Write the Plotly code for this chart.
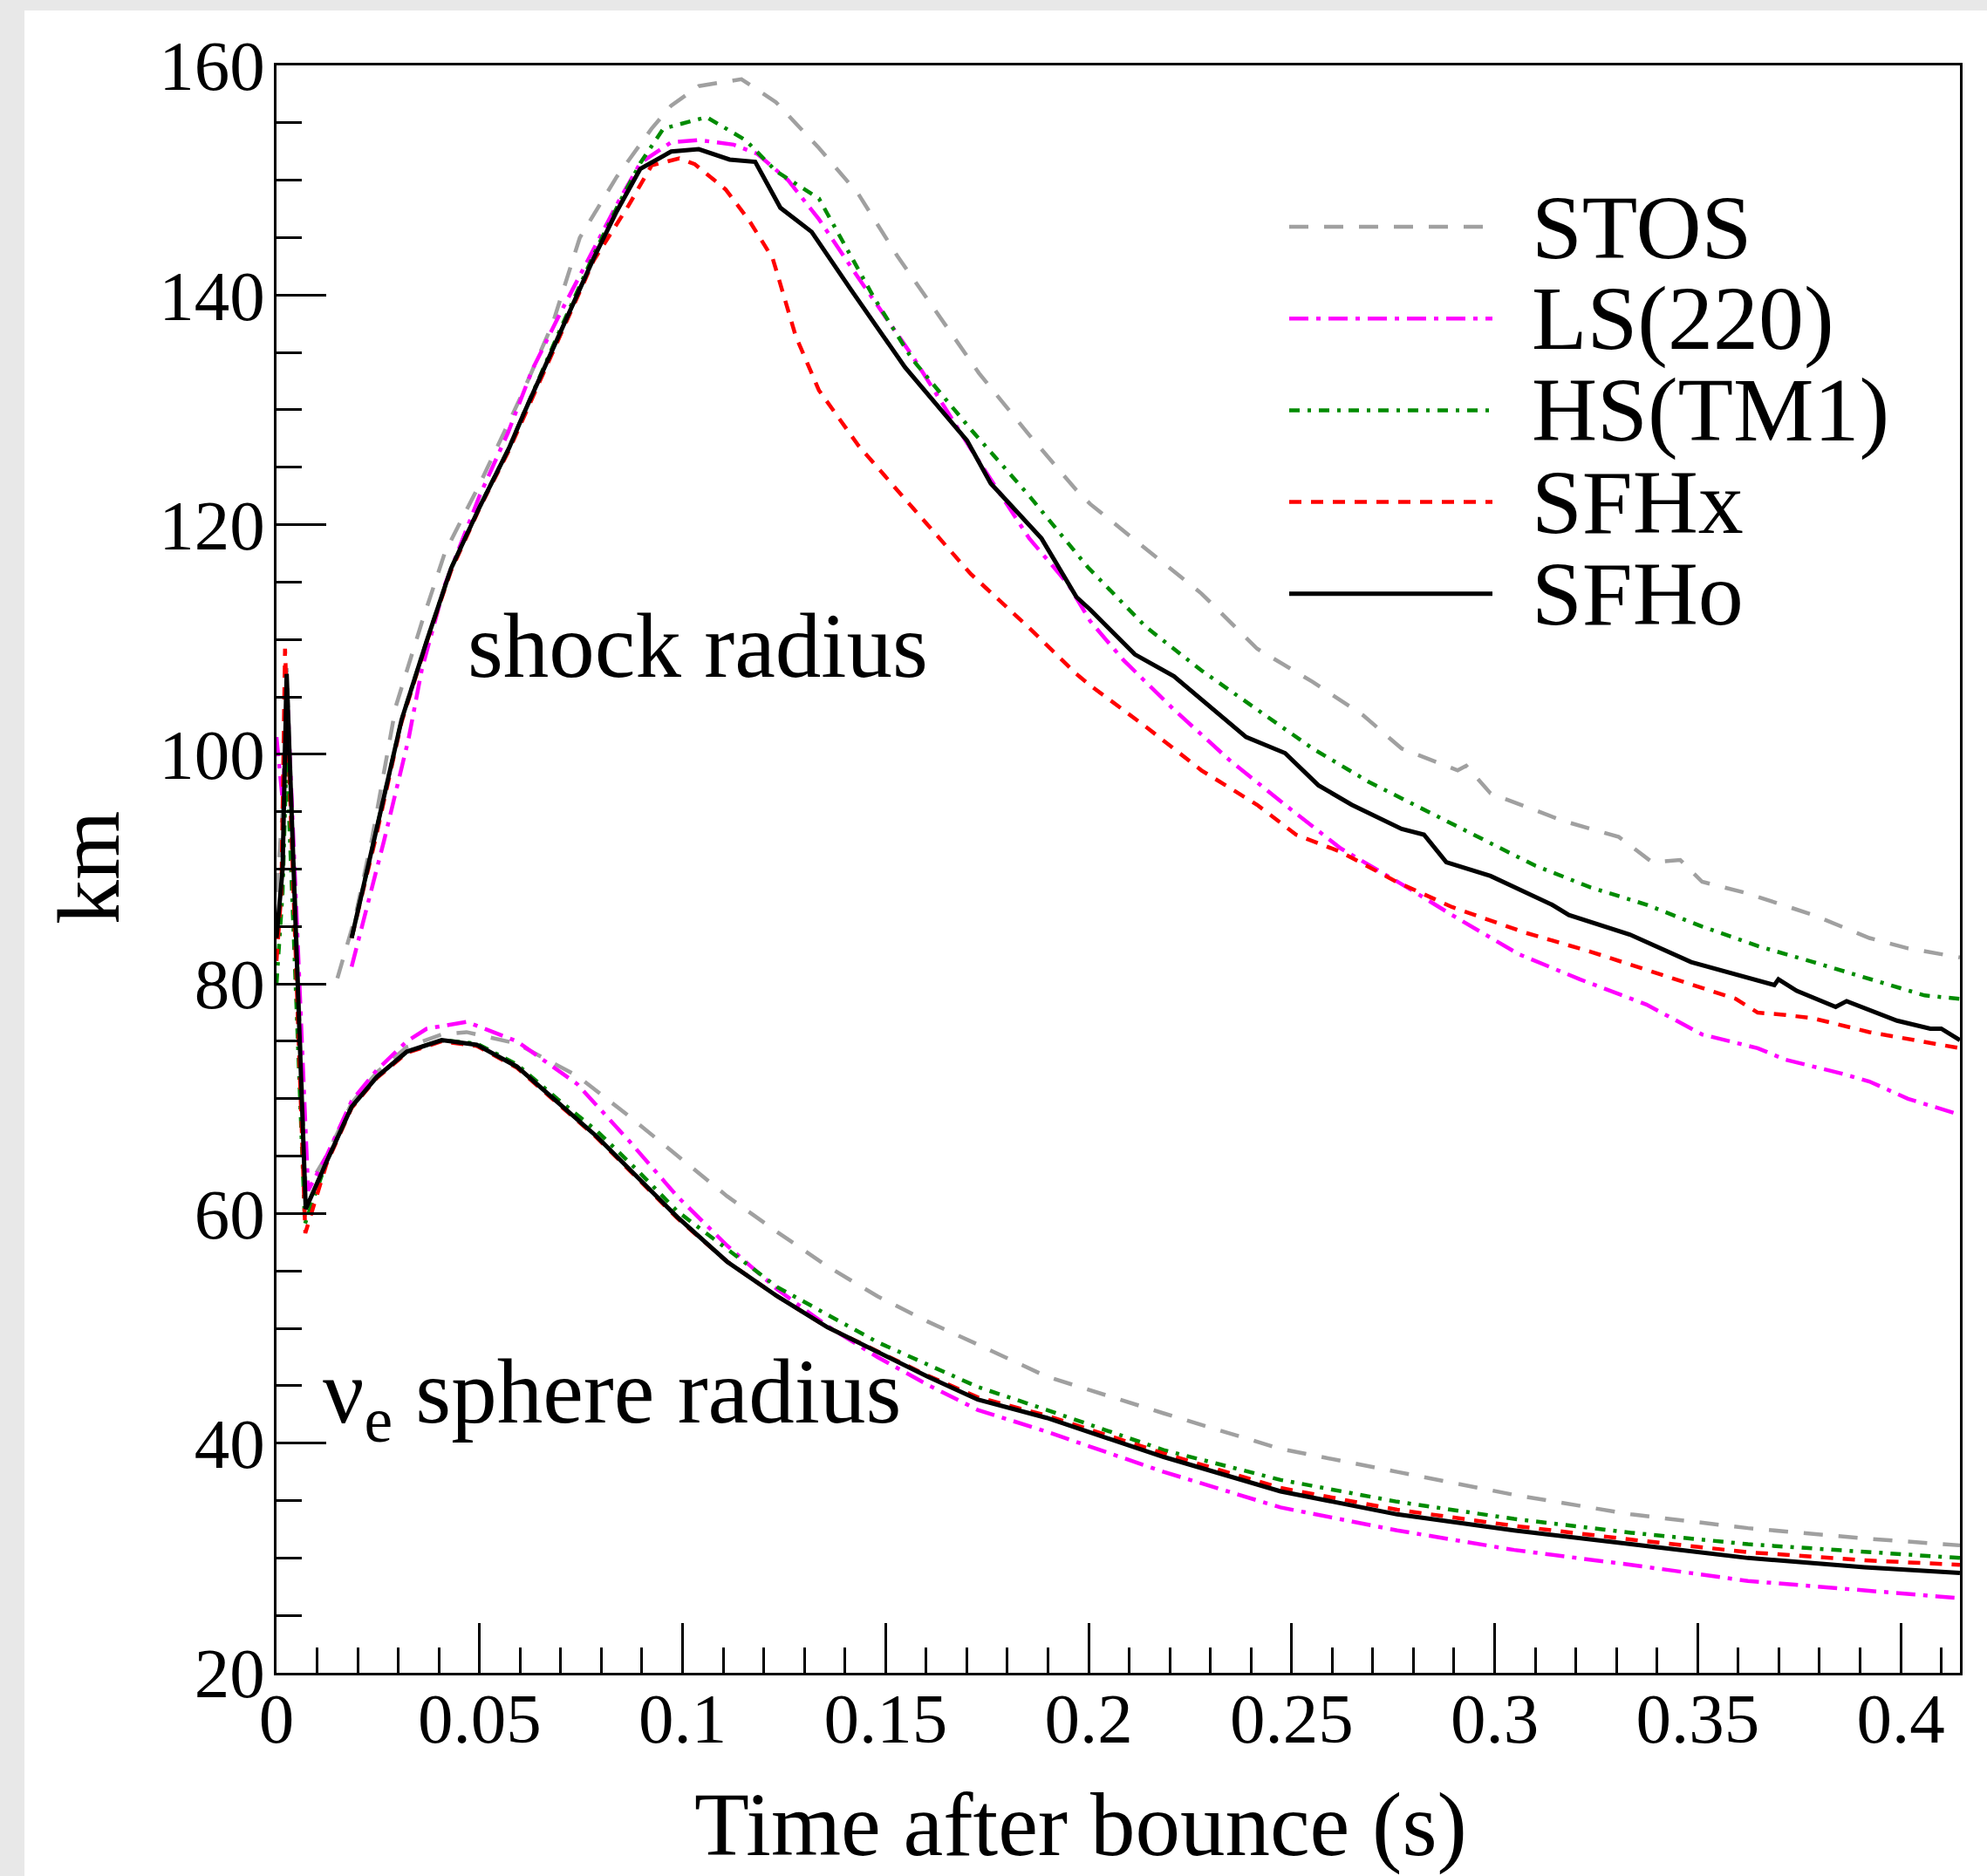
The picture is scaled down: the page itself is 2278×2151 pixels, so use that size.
import plotly.graph_objects as go

# ---------------- data ----------------
model_names = ["STOS", "LS(220)", "HS(TM1)", "SFHx", "SFHo"]

# shock radius (km) vs time after bounce (s)
stos_shock_t = [0.0150, 0.0193, 0.0236, 0.0294, 0.0358, 0.0415, 0.0500, 0.0600, 0.0680, 0.0747,
                0.0838, 0.0924, 0.0972, 0.1040, 0.1145, 0.1230, 0.1336, 0.1433, 0.1529, 0.1624,
                0.1730, 0.1854, 0.1970, 0.2004, 0.2141, 0.2278, 0.2415, 0.2552, 0.2676, 0.2771,
                0.2909, 0.2930, 0.2990, 0.3169, 0.3306, 0.3388, 0.3457, 0.3511, 0.3621, 0.3785,
                0.3923, 0.4018, 0.4146]
stos_shock_r = [80.5, 85.7, 92.8, 104.2, 111.5, 117.6, 123.5, 131.0, 137.5, 145.0,
                150.3, 154.5, 156.5, 158.2, 158.8, 156.8, 152.8, 148.8, 143.4, 138.6,
                133.2, 127.8, 123.0, 121.8, 117.9, 114.0, 109.2, 106.3, 103.4, 100.5,
                98.6, 99.0, 96.6, 94.2, 92.8, 90.6, 90.8, 88.9, 87.9, 86.0,
                84.0, 83.1, 82.3]

ls_shock_t = [0.0185, 0.0265, 0.0325, 0.0358, 0.0415, 0.0500, 0.0570, 0.0630, 0.0700, 0.0780,
              0.0840, 0.0896, 0.0972, 0.1040, 0.1126, 0.1184, 0.1260, 0.1336, 0.1433, 0.1566,
              0.1710, 0.1854, 0.1950, 0.2004, 0.2086, 0.2210, 0.2347, 0.2484, 0.2621, 0.2785,
              0.2895, 0.3059, 0.3210, 0.3374, 0.3511, 0.3648, 0.3716, 0.3854, 0.3923, 0.4018,
              0.4146]
ls_shock_r = [81.5, 92.5, 101.3, 107.4, 114.8, 122.5, 128.0, 133.5, 138.5, 144.0,
              148.0, 151.5, 153.3, 153.5, 153.1, 152.3, 150.0, 146.6, 141.5, 134.7,
              126.6, 118.8, 114.8, 111.6, 108.2, 103.9, 99.5, 95.6, 91.8, 88.4,
              86.0, 82.6, 80.4, 78.2, 75.6, 74.4, 73.4, 72.2, 71.5, 70.0,
              68.6]

hs_shock_t = [0.0185, 0.0243, 0.0308, 0.0372, 0.0430, 0.0501, 0.0573, 0.0608, 0.0690, 0.0781,
              0.0838, 0.0896, 0.0953, 0.1059, 0.1155, 0.1230, 0.1336, 0.1471, 0.1566, 0.1710,
              0.1854, 0.1998, 0.2141, 0.2278, 0.2415, 0.2552, 0.2690, 0.2826, 0.2963, 0.3100,
              0.3237, 0.3374, 0.3511, 0.3648, 0.3785, 0.3923, 0.4059, 0.4146]
hs_shock_r = [84.0, 92.8, 103.0, 110.1, 116.2, 121.6, 126.7, 129.6, 136.3, 143.5,
              147.6, 151.5, 154.5, 155.5, 153.5, 150.8, 148.4, 139.8, 134.4, 128.3,
              122.5, 116.3, 111.1, 107.3, 103.9, 100.5, 97.6, 95.2, 92.8, 90.3,
              88.4, 86.9, 85.0, 83.3, 81.9, 80.4, 79.0, 78.7]

sfhx_shock_t = [0.0185, 0.0243, 0.0308, 0.0372, 0.0430, 0.0501, 0.0573, 0.0608, 0.0690, 0.0781,
                0.0867, 0.0924, 0.0992, 0.1030, 0.1106, 0.1164, 0.1222, 0.1279, 0.1336, 0.1433,
                0.1566, 0.1710, 0.1854, 0.1970, 0.2004, 0.2141, 0.2278, 0.2415, 0.2511, 0.2621,
                0.2758, 0.2895, 0.3072, 0.3237, 0.3428, 0.3594, 0.3648, 0.3716, 0.3785, 0.3923,
                0.4146]
sfhx_shock_r = [84.0, 92.5, 102.8, 110.0, 116.0, 121.5, 126.5, 129.3, 135.8, 143.0,
                147.8, 151.3, 151.9, 151.4, 149.2, 146.5, 143.2, 136.4, 131.7, 126.9,
                121.5, 115.7, 111.0, 107.0, 106.0, 102.4, 98.6, 95.6, 93.0, 91.5,
                88.9, 86.7, 84.5, 82.8, 80.6, 78.7, 77.5, 77.3, 77.0, 75.8,
                74.4]

sfho_shock_t = [0.0185, 0.0243, 0.0308, 0.0372, 0.0430, 0.0501, 0.0573, 0.0608, 0.0690, 0.0781,
                0.0838, 0.0896, 0.0972, 0.1040, 0.1116, 0.1179, 0.1241, 0.1318, 0.1414, 0.1548,
                0.1701, 0.1759, 0.1884, 0.1970, 0.2004, 0.2114, 0.2210, 0.2292, 0.2388, 0.2484,
                0.2566, 0.2648, 0.2771, 0.2826, 0.2881, 0.2990, 0.3141, 0.3183, 0.3333, 0.3484,
                0.3689, 0.3699, 0.3744, 0.3840, 0.3867, 0.3991, 0.4073, 0.4100, 0.4146]
sfho_shock_r = [84.0, 92.8, 103.0, 110.1, 116.2, 121.6, 126.7, 129.6, 136.0, 143.2,
                147.3, 151.0, 152.5, 152.7, 151.8, 151.6, 147.6, 145.5, 140.5, 133.7,
                127.3, 123.6, 118.8, 113.7, 112.6, 108.7, 106.8, 104.4, 101.5, 100.1,
                97.3, 95.6, 93.5, 93.0, 90.6, 89.4, 86.9, 86.0, 84.3, 81.9,
                79.9, 80.4, 79.4, 78.0, 78.5, 76.8, 76.1, 76.1, 75.1]

# nu_e sphere radius (km) vs time after bounce (s)
stos_nu_t = [0.0, 0.0015, 0.0025, 0.0072, 0.0123, 0.0185, 0.0247, 0.0321, 0.0407, 0.0468,
             0.0592, 0.0740, 0.0864, 0.0987, 0.1110, 0.1233, 0.1357, 0.1480, 0.1603, 0.1727,
             0.1897, 0.2185, 0.2473, 0.2760, 0.3048, 0.3336, 0.3624, 0.3911, 0.4146]
stos_nu_r = [88.0, 95.0, 107.5, 62.0, 65.0, 69.6, 72.3, 74.5, 75.6, 75.8,
             74.8, 72.0, 68.6, 65.0, 61.5, 58.4, 55.4, 52.8, 50.6, 48.6,
             45.8, 42.6, 39.5, 37.5, 35.5, 33.8, 32.6, 31.7, 31.1]

ls_nu_t = [0.0, 0.0015, 0.0028, 0.0078, 0.0123, 0.0185, 0.0247, 0.0321, 0.0370, 0.0468,
           0.0592, 0.0740, 0.0864, 0.0987, 0.1110, 0.1233, 0.1357, 0.1480, 0.1603, 0.1727,
           0.1897, 0.2185, 0.2473, 0.2760, 0.3048, 0.3336, 0.3624, 0.3911, 0.4146]
ls_nu_r = [101.5, 96.0, 104.0, 62.0, 65.0, 69.8, 72.5, 75.0, 76.1, 76.7,
           75.0, 71.3, 66.5, 61.5, 57.2, 53.4, 50.2, 47.5, 45.1, 42.9,
           41.0, 37.5, 34.4, 32.4, 30.7, 29.4, 28.0, 27.2, 26.5]

hs_nu_t = [0.0, 0.0015, 0.0025, 0.0070, 0.0123, 0.0185, 0.0247, 0.0321, 0.0407, 0.0493,
           0.0592, 0.0691, 0.0789, 0.0888, 0.0987, 0.1233, 0.1480, 0.1727, 0.1897, 0.2185,
           0.2473, 0.2760, 0.3048, 0.3336, 0.3624, 0.3911, 0.4146]
hs_nu_r = [80.0, 88.0, 100.0, 59.1, 64.5, 69.3, 71.9, 74.1, 75.1, 74.8,
           73.0, 70.0, 67.2, 63.8, 60.2, 53.6, 48.8, 44.9, 42.9, 39.4,
           36.8, 34.9, 33.4, 32.2, 31.2, 30.5, 30.0]

sfhx_nu_t = [0.0, 0.0012, 0.0021, 0.0071, 0.0123, 0.0185, 0.0247, 0.0321, 0.0407, 0.0493,
             0.0592, 0.0691, 0.0789, 0.0888, 0.0987, 0.1110, 0.1233, 0.1357, 0.1480, 0.1603,
             0.1727, 0.1897, 0.2185, 0.2473, 0.2760, 0.3048, 0.3336, 0.3624, 0.3911, 0.4146]
sfhx_nu_r = [82.0, 88.0, 109.2, 58.3, 64.3, 69.2, 71.8, 74.0, 75.0, 74.6,
             72.7, 69.6, 66.6, 63.1, 59.6, 55.8, 52.8, 50.1, 48.0, 45.9,
             44.0, 42.4, 39.1, 36.1, 34.2, 32.8, 31.6, 30.5, 29.8, 29.4]

sfho_nu_t = [0.0, 0.0015, 0.0025, 0.0072, 0.0123, 0.0185, 0.0247, 0.0321, 0.0407, 0.0493,
             0.0592, 0.0691, 0.0789, 0.0888, 0.0987, 0.1110, 0.1233, 0.1357, 0.1480, 0.1603,
             0.1727, 0.1897, 0.2185, 0.2473, 0.2760, 0.3048, 0.3336, 0.3624, 0.3911, 0.4146]
sfho_nu_r = [84.0, 90.0, 107.0, 60.4, 64.5, 69.3, 71.9, 74.1, 75.1, 74.7,
             72.8, 69.7, 66.7, 63.2, 59.7, 55.8, 52.8, 50.1, 48.0, 45.8,
             43.8, 42.2, 38.8, 35.8, 33.8, 32.4, 31.2, 30.0, 29.2, 28.7]

x_tick_vals = [0, 0.05, 0.1, 0.15, 0.2, 0.25, 0.3, 0.35, 0.4]
x_tick_text = ["0", "0.05", "0.1", "0.15", "0.2", "0.25", "0.3", "0.35", "0.4"]
y_tick_vals = [20, 40, 60, 80, 100, 120, 140, 160]
y_tick_text = ["20", "40", "60", "80", "100", "120", "140", "160"]

# ---------------- styles ----------------
FONT = "Liberation Serif, Times New Roman, serif"
styles = {
    "STOS":    dict(color="#a0a0a0", dash="22px,18px", width=4.5),
    "LS(220)": dict(color="#ff00ff", dash="22px,9px,5px,9px", width=4.5),
    "HS(TM1)": dict(color="#008b00", dash="12px,9px,4px,9px", width=4.5),
    "SFHx":    dict(color="#ff0000", dash="14px,11px", width=4.5),
    "SFHo":    dict(color="#000000", dash="solid", width=5),
}
series = {
    "STOS":    [(stos_shock_t, stos_shock_r), (stos_nu_t, stos_nu_r)],
    "LS(220)": [(ls_shock_t, ls_shock_r), (ls_nu_t, ls_nu_r)],
    "HS(TM1)": [(hs_shock_t, hs_shock_r), (hs_nu_t, hs_nu_r)],
    "SFHx":    [(sfhx_shock_t, sfhx_shock_r), (sfhx_nu_t, sfhx_nu_r)],
    "SFHo":    [(sfho_shock_t, sfho_shock_r), (sfho_nu_t, sfho_nu_r)],
}

fig = go.Figure()
for name in model_names:
    st = styles[name]
    for (tt, rr) in series[name]:
        fig.add_trace(go.Scatter(
            x=tt, y=rr, mode="lines", name=name, legendgroup=name, showlegend=False,
            line=dict(color=st["color"], dash=st["dash"], width=st["width"]),
        ))

# ---------------- layout geometry (pixels) ----------------
W, H = 2278, 2151
L, R, T, B = 317, 31, 75, 233
PW, PH = W - L - R, H - T - B

def px(X):
    return (X - L) / PW

def py(Y):
    return (H - B - Y) / PH

shapes = []
annotations = []

# white page with a light gray frame (top/left)
shapes.append(dict(type="rect", xref="paper", yref="paper", layer="below",
                   x0=px(28), x1=px(W + 5), y0=py(H + 5), y1=py(12),
                   fillcolor="white", line=dict(width=0)))

# custom legend
leg_x0, leg_x1, leg_text_x = 1478, 1711, 1754
for i, name in enumerate(model_names):
    st = styles[name]
    yy = py(260 + 105.2 * i)
    shapes.append(dict(type="line", xref="paper", yref="paper",
                       x0=px(leg_x0), x1=px(leg_x1), y0=yy, y1=yy,
                       line=dict(color=st["color"], dash=st["dash"], width=st["width"])))
    annotations.append(dict(xref="paper", yref="paper", x=px(leg_text_x), y=yy,
                            xanchor="left", yanchor="middle", showarrow=False,
                            text=name, font=dict(family=FONT, size=104, color="black")))

annotations.append(dict(xref="paper", yref="paper", x=px(534), y=py(740),
                        xanchor="left", yanchor="middle", showarrow=False,
                        text="shock radius", font=dict(family=FONT, size=105, color="black")))
annotations.append(dict(xref="paper", yref="paper", x=px(368), y=py(1603),
                        xanchor="left", yanchor="middle", showarrow=False,
                        text="\u03bd<sub>e</sub> sphere radius",
                        font=dict(family=FONT, size=105, color="black")))
annotations.append(dict(xref="paper", yref="paper", x=px(1239), y=py(2092),
                        xanchor="center", yanchor="middle", showarrow=False,
                        text="Time after bounce (s)", font=dict(family=FONT, size=103, color="black")))
annotations.append(dict(xref="paper", yref="paper", x=px(102), y=py(995),
                        xanchor="center", yanchor="middle", showarrow=False, textangle=-90,
                        text="km", font=dict(family=FONT, size=102, color="black")))

axis_common = dict(
    showline=True, linewidth=3, linecolor="black", mirror=True,
    showgrid=False, zeroline=False,
    ticks="inside", ticklen=57, tickwidth=3, tickcolor="black",
    tickfont=dict(family=FONT, size=81, color="black"),
    tickmode="array",
)

fig.update_layout(
    width=W, height=H, autosize=False,
    margin=dict(l=L, r=R, t=T, b=B, pad=0),
    paper_bgcolor="#e8e8e8", plot_bgcolor="white",
    showlegend=False,
    shapes=shapes, annotations=annotations,
    xaxis=dict(range=[0, PW / 4655.0], tickvals=x_tick_vals, ticktext=x_tick_text,
               ticklabelstandoff=-20,
               minor=dict(tickmode="linear", tick0=0, dtick=0.01, ticks="inside",
                          ticklen=29, tickwidth=3, tickcolor="black"),
               **axis_common),
    yaxis=dict(range=[20, 160], tickvals=y_tick_vals, ticktext=y_tick_text,
               ticklabelstandoff=-6,
               minor=dict(tickmode="linear", tick0=20, dtick=5, ticks="inside",
                          ticklen=29, tickwidth=3, tickcolor="black"),
               **axis_common),
)

fig.write_html("out.html")
